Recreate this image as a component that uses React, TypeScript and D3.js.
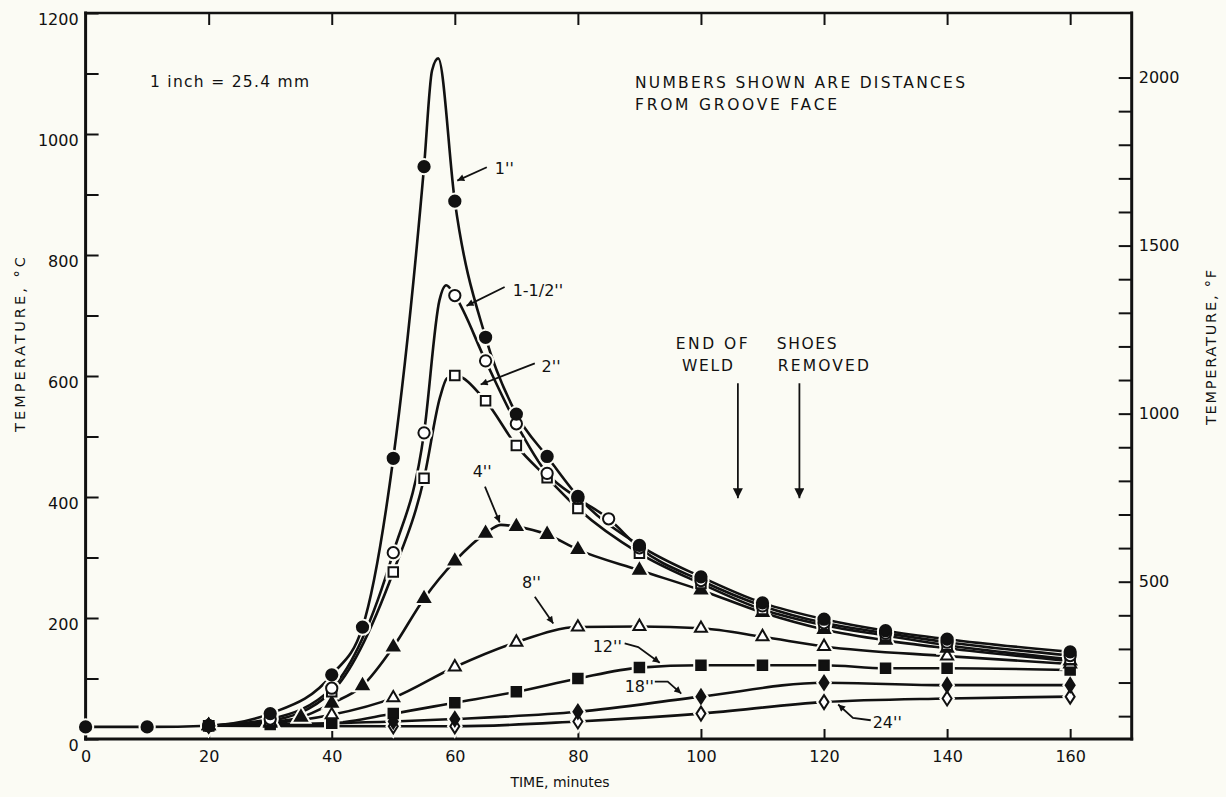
import React, { useEffect, useRef } from "react";
import * as d3 from "d3";

type Pt = [number, number];

// time (minutes), temperature (°C)
const oneInch: Pt[] = [[0, 20], [10, 20], [20, 22], [30, 42], [40, 106], [45, 185], [50, 464], [55, 946], [60, 889], [65, 664], [70, 537], [75, 467], [80, 401], [90, 320], [100, 268], [110, 225], [120, 198], [130, 179], [140, 165], [160, 144]];
const oneHalfInch: Pt[] = [[20, 22], [30, 33], [40, 84], [50, 308], [55, 506], [60, 733], [65, 625], [70, 521], [75, 439], [80, 398], [85, 364], [90, 316], [100, 262], [110, 220], [120, 192], [130, 175], [140, 160], [160, 138]];
const twoInch: Pt[] = [[20, 22], [30, 30], [40, 78], [50, 276], [55, 431], [60, 601], [65, 559], [70, 485], [75, 432], [80, 381], [90, 307], [100, 257], [110, 214], [120, 188], [130, 171], [140, 155], [160, 132]];
const fourInch: Pt[] = [[20, 22], [30, 28], [35, 36], [40, 59], [45, 88], [50, 152], [55, 232], [60, 294], [65, 340], [70, 351], [75, 338], [80, 313], [90, 279], [100, 246], [110, 209], [120, 181], [130, 163], [140, 150], [160, 129]];
const eightInch: Pt[] = [[20, 22], [30, 26], [40, 40], [50, 68], [60, 119], [70, 160], [80, 185], [90, 186], [100, 183], [110, 169], [120, 153], [140, 137], [160, 124]];
const twelveInch: Pt[] = [[20, 22], [30, 24], [40, 26], [50, 42], [60, 60], [70, 78], [80, 100], [90, 118], [100, 122], [110, 122], [120, 122], [130, 117], [140, 117], [160, 114]];
const eighteenInch: Pt[] = [[20, 22], [50, 29], [60, 33], [80, 45], [100, 70], [120, 93], [140, 89], [160, 89]];
const twentyFourInch: Pt[] = [[20, 22], [50, 21], [60, 21], [80, 29], [100, 42], [120, 61], [140, 67], [160, 70]];

// points on the drawn curves (peaks) that carry no symbol
const oneInchPeak: Pt[] = [[56.3, 1105], [57.3, 1125]];
const oneHalfInchPeak: Pt[] = [[57.5, 725], [58.6, 750]];
const twoInchPeak: Pt[] = [[57.6, 565], [58.7, 596]];
const fourInchPeak: Pt[] = [[67.5, 354]];

const xTickValues = [0, 20, 40, 60, 80, 100, 120, 140, 160];
const cTickLabels = [0, 200, 400, 600, 800, 1000, 1200];
const fTickLabels = [500, 1000, 1500, 2000];

// label text, text position, leader path (all in time / °C)
const curveLabels = [
  { text: "1''", at: [66.5, 934], path: [[65.2, 945], [60.4, 923]] },
  { text: "1-1/2''", at: [69.4, 733], path: [[68.1, 747], [61.9, 716]] },
  { text: "2''", at: [74.1, 606], path: [[73, 621], [64.2, 586]] },
  { text: "4''", at: [62.9, 433], path: [[64.9, 417], [67.3, 358]] },
  { text: "8''", at: [70.9, 249], path: [[73, 235], [76, 191]] },
  { text: "12''", at: [82.4, 144], path: [[87.6, 158], [89.8, 152], [93.3, 126]] },
  { text: "18''", at: [87.6, 78], path: [[92.5, 95], [94.6, 95], [96.8, 75]] },
  { text: "24''", at: [127.9, 18], path: [[127.6, 31], [124.7, 35], [122.3, 57]] },
];

const events = [
  { t: 106, lines: ["END OF", "WELD"], starts: [95.9, 96.9], lens: [72, 51] },
  { t: 116, lines: ["SHOES", "REMOVED"], starts: [112.3, 112.5], lens: [60, 91] },
];

const BG = "#fbfbf4";
const INK = "#111111";
const FONT = "'DejaVu Sans', 'Liberation Sans', Arial, sans-serif";

const diamond = (w: number, h: number) => `M0,${-h / 2}L${w / 2},0L0,${h / 2}L${-w / 2},0Z`;

export default function App() {
  const svgRef = useRef<SVGSVGElement | null>(null);

  useEffect(() => {
    if (!svgRef.current) return;
    const svg = d3.select(svgRef.current);
    svg.selectAll("*").remove();

    const x = d3.scaleLinear().domain([0, 170]).range([85.6, 1131.7]);
    const y = d3.scaleLinear().domain([0, 1200]).range([739, 13]);
    const yF = d3.scaleLinear().domain([32, 1200 * 1.8 + 32]).range([739, 13]);

    svg.append("rect").attr("width", 1226).attr("height", 797).attr("fill", BG);

    const defs = svg.append("defs");
    defs.append("marker").attr("id", "ah").attr("viewBox", "0 0 10 10")
      .attr("refX", 10).attr("refY", 5).attr("markerWidth", 11).attr("markerHeight", 7)
      .attr("markerUnits", "userSpaceOnUse").attr("orient", "auto")
      .append("path").attr("d", "M0,0L10,5L0,10Z").attr("fill", INK);
    defs.append("marker").attr("id", "ahBig").attr("viewBox", "0 0 10 10")
      .attr("refX", 10).attr("refY", 5).attr("markerWidth", 24).attr("markerHeight", 10)
      .attr("markerUnits", "userSpaceOnUse").attr("orient", "auto")
      .append("path").attr("d", "M0,0L10,5L0,10Z").attr("fill", INK);

    // axes
    const styleAxis = (g: d3.Selection<SVGGElement, unknown, null, undefined>) => {
      g.select(".domain").remove();
      g.selectAll(".tick line").attr("stroke", INK).attr("stroke-width", 2);
      g.selectAll("text").attr("fill", INK).attr("font-size", 16).attr("font-family", FONT);
    };

    svg.append("g").attr("transform", `translate(${x(0)},0)`)
      .call(d3.axisLeft(y).tickValues(d3.range(0, 1201, 100)).tickSizeInner(-13).tickSizeOuter(0).tickPadding(7)
        .tickFormat((d) => (cTickLabels.includes(+d) ? String(d) : "")))
      .call(styleAxis)
      .selectAll("text").attr("dy", "0.7em");

    svg.append("g").attr("transform", `translate(${x(170)},0)`)
      .call(d3.axisRight(yF).tickValues(d3.range(100, 2001, 100)).tickSizeInner(-13).tickSizeOuter(0).tickPadding(7)
        .tickFormat((d) => (fTickLabels.includes(+d) ? String(d) : "")))
      .call(styleAxis);

    svg.append("g").attr("transform", `translate(0,${y(0)})`)
      .call(d3.axisBottom(x).tickValues(xTickValues).tickSizeInner(-10).tickSizeOuter(0).tickPadding(12))
      .call(styleAxis);

    svg.append("g").attr("transform", `translate(0,${y(1200)})`)
      .call(d3.axisTop(x).tickValues(xTickValues.slice(1)).tickSizeInner(-12).tickSizeOuter(0).tickFormat(() => ""))
      .call(styleAxis);

    const frame = svg.append("g").attr("stroke", INK).attr("stroke-linecap", "square");
    frame.append("line").attr("x1", x(0)).attr("x2", x(0)).attr("y1", y(1200)).attr("y2", y(0)).attr("stroke-width", 3);
    frame.append("line").attr("x1", x(0)).attr("x2", x(170)).attr("y1", y(0)).attr("y2", y(0)).attr("stroke-width", 3);
    frame.append("line").attr("x1", x(0)).attr("x2", x(170)).attr("y1", y(1200)).attr("y2", y(1200)).attr("stroke-width", 2.5);
    frame.append("line").attr("x1", x(170)).attr("x2", x(170)).attr("y1", y(1200)).attr("y2", y(0)).attr("stroke-width", 3);

    // series
    const series = [
      { pts: twentyFourInch, extra: [] as Pt[], shape: "diamond", filled: false },
      { pts: eighteenInch, extra: [] as Pt[], shape: "diamond", filled: true },
      { pts: twelveInch, extra: [] as Pt[], shape: "square", filled: true },
      { pts: eightInch, extra: [] as Pt[], shape: "triangle", filled: false },
      { pts: fourInch, extra: fourInchPeak, shape: "triangle", filled: true },
      { pts: twoInch, extra: twoInchPeak, shape: "square", filled: false },
      { pts: oneHalfInch, extra: oneHalfInchPeak, shape: "circle", filled: false },
      { pts: oneInch, extra: oneInchPeak, shape: "circle", filled: true },
    ];

    const line = d3.line<Pt>().x((d) => x(d[0])).y((d) => y(d[1])).curve(d3.curveMonotoneX);

    series.forEach((s) => {
      const all = [...s.pts, ...s.extra].sort((a, b) => a[0] - b[0]);
      svg.append("path").attr("d", line(all)).attr("fill", "none")
        .attr("stroke", INK).attr("stroke-width", 2.6).attr("stroke-linejoin", "round");
    });

    const symbolPath = (shape: string) => {
      if (shape === "circle") return d3.symbol().type(d3.symbolCircle).size(100)()!;
      if (shape === "square") return d3.symbol().type(d3.symbolSquare).size(90)()!;
      if (shape === "triangle") return d3.symbol().type(d3.symbolTriangle).size(62)()!;
      return diamond(9, 14);
    };

    // halos cut small gaps into the lines around each symbol
    series.forEach((s) => {
      svg.append("g").selectAll("path").data(s.pts).enter().append("path")
        .attr("transform", (d) => `translate(${x(d[0])},${y(d[1])})`)
        .attr("d", symbolPath(s.shape)).attr("fill", BG).attr("stroke", BG).attr("stroke-width", 6);
    });
    series.forEach((s) => {
      svg.append("g").selectAll("path").data(s.pts).enter().append("path")
        .attr("transform", (d) => `translate(${x(d[0])},${y(d[1])})`)
        .attr("d", symbolPath(s.shape))
        .attr("fill", s.filled ? INK : "#ffffff").attr("stroke", INK).attr("stroke-width", 2);
    });

    // curve labels with leaders
    curveLabels.forEach((c) => {
      svg.append("text").attr("x", x(c.at[0])).attr("y", y(c.at[1]))
        .attr("font-family", FONT).attr("font-size", 16).attr("fill", INK).text(c.text);
      svg.append("path").attr("d", d3.line()(c.path.map((p) => [x(p[0]), y(p[1])] as [number, number])))
        .attr("fill", "none").attr("stroke", INK).attr("stroke-width", 1.8).attr("marker-end", "url(#ah)");
    });

    // event arrows
    events.forEach((e) => {
      svg.append("line").attr("x1", x(e.t)).attr("x2", x(e.t)).attr("y1", y(588)).attr("y2", y(398))
        .attr("stroke", INK).attr("stroke-width", 1.8).attr("marker-end", "url(#ahBig)");
      e.lines.forEach((txt, i) => {
        svg.append("text").attr("x", x(e.starts[i])).attr("y", i === 0 ? 349 : 371)
          .attr("font-family", FONT).attr("font-size", 15.5).attr("fill", INK)
          .attr("textLength", e.lens[i]).attr("lengthAdjust", "spacing").text(txt);
      });
    });

    // notes
    const note = (txt: string, tx: number, ty: number, len: number, size = 15.5) =>
      svg.append("text").attr("x", tx).attr("y", ty).attr("font-family", FONT).attr("font-size", size)
        .attr("fill", INK).attr("textLength", len).attr("lengthAdjust", "spacing").text(txt);
    note("1 inch = 25.4 mm", 150, 87, 159);
    note("NUMBERS SHOWN ARE DISTANCES", 635, 88, 330);
    note("FROM GROOVE FACE", 635, 110, 202);

    // axis titles
    svg.append("text").attr("transform", "translate(25,344.5) rotate(-90)").attr("text-anchor", "middle")
      .attr("font-family", FONT).attr("font-size", 14.5).attr("fill", INK)
      .attr("textLength", 175).attr("lengthAdjust", "spacing").text("TEMPERATURE, °C");
    svg.append("text").attr("transform", "translate(1216,347.5) rotate(-90)").attr("text-anchor", "middle")
      .attr("font-family", FONT).attr("font-size", 14.5).attr("fill", INK)
      .attr("textLength", 155).attr("lengthAdjust", "spacing").text("TEMPERATURE, °F");
    svg.append("text").attr("x", 560).attr("y", 787).attr("text-anchor", "middle")
      .attr("font-family", FONT).attr("font-size", 14).attr("fill", INK)
      .text("TIME, minutes");
  }, []);

  return (
    <svg
      ref={svgRef}
      width={1226}
      height={797}
      style={{ position: "absolute", left: 0, top: 0, display: "block" }}
    />
  );
}
